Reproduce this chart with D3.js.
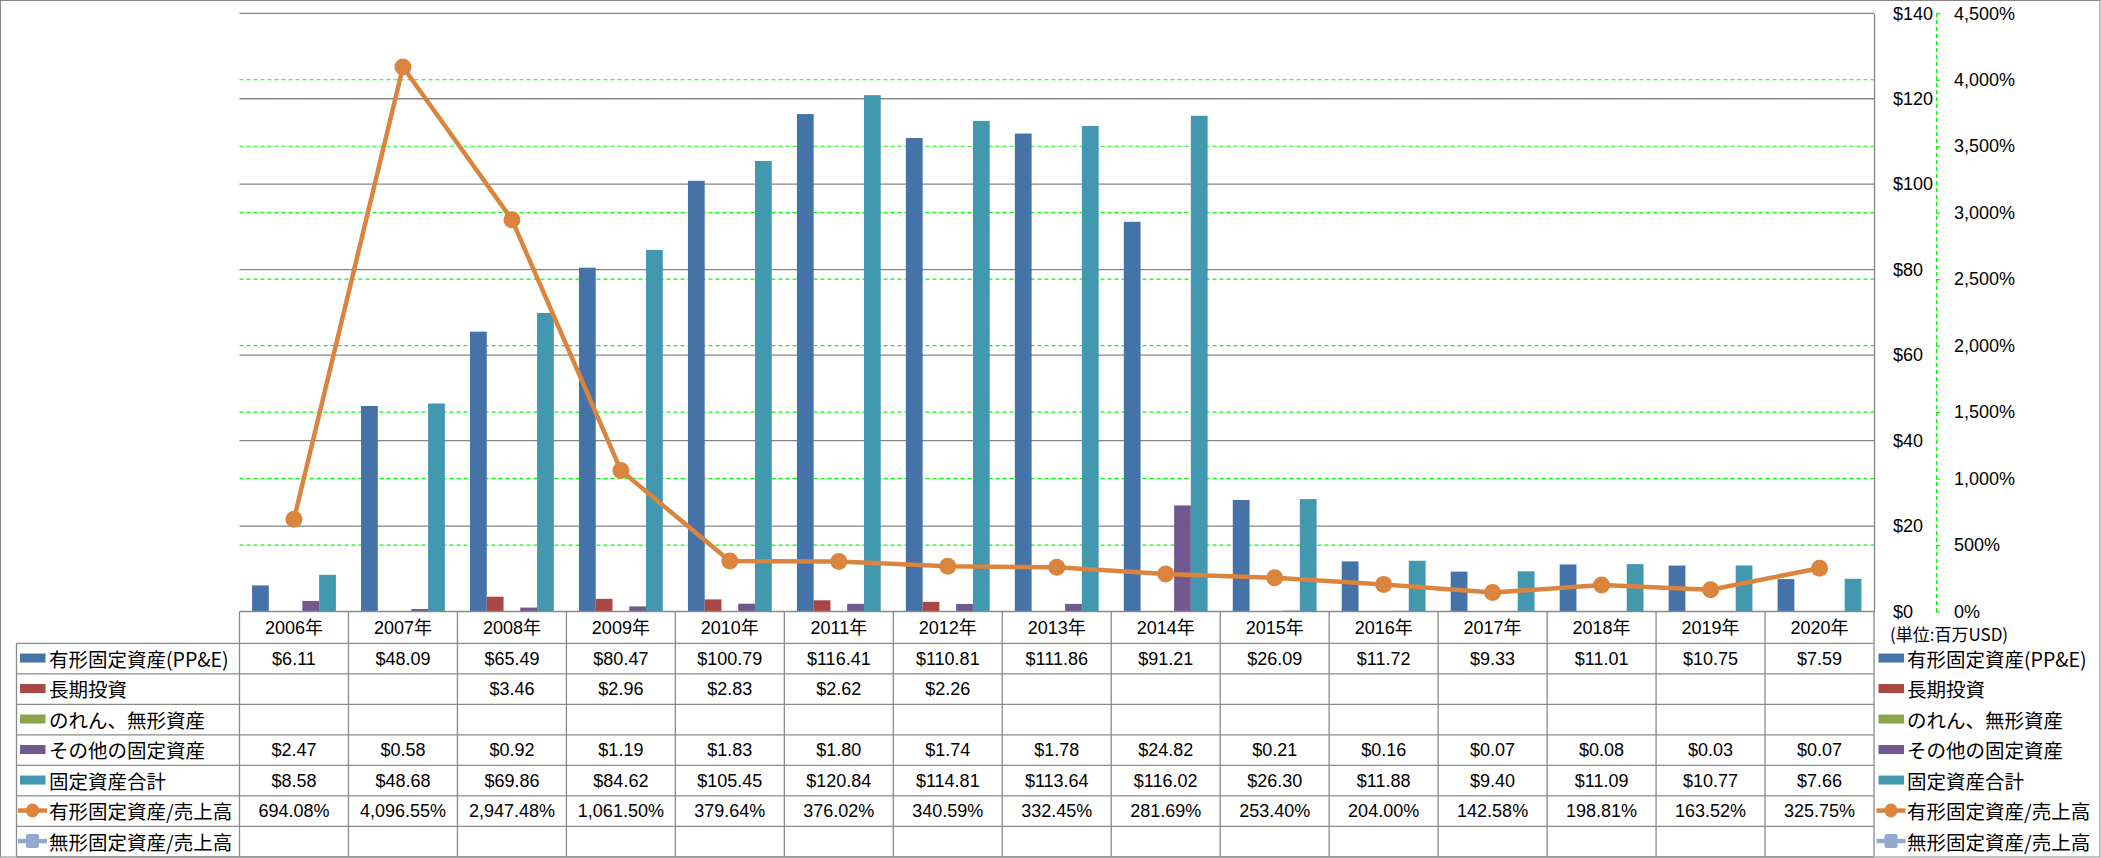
<!DOCTYPE html>
<html><head><meta charset="utf-8">
<script src="https://cdn.jsdelivr.net/npm/d3@7"></script>
<style>body{margin:0;background:#fff} svg{display:block}</style>
</head><body><svg id="c" width="2101" height="858"></svg>
<script>
const years = ['2006年','2007年','2008年','2009年','2010年','2011年','2012年','2013年','2014年','2015年','2016年','2017年','2018年','2019年','2020年'];
const ppe = [6.11,48.09,65.49,80.47,100.79,116.41,110.81,111.86,91.21,26.09,11.72,9.33,11.01,10.75,7.59];
const longInv = [null,null,3.46,2.96,2.83,2.62,2.26,null,null,null,null,null,null,null,null];
const goodwill = [null,null,null,null,null,null,null,null,null,null,null,null,null,null,null];
const otherFixed = [2.47,0.58,0.92,1.19,1.83,1.80,1.74,1.78,24.82,0.21,0.16,0.07,0.08,0.03,0.07];
const totalFixed = [8.58,48.68,69.86,84.62,105.45,120.84,114.81,113.64,116.02,26.30,11.88,9.40,11.09,10.77,7.66];
const ppeRatio = [694.08,4096.55,2947.48,1061.50,379.64,376.02,340.59,332.45,281.69,253.40,204.00,142.58,198.81,163.52,325.75];
const intangibleRatio = [null,null,null,null,null,null,null,null,null,null,null,null,null,null,null];
const seriesNames = ['有形固定資産(PP&E)','長期投資','のれん、無形資産','その他の固定資産','固定資産合計','有形固定資産/売上高','無形固定資産/売上高'];
const colors = ['#4572A7','#AA4643','#89A54E','#71588F','#4198AF','#DB843D','#93A9CF'];
const dollarTicks = [0,20,40,60,80,100,120,140];
const pctTicks = [0,500,1000,1500,2000,2500,3000,3500,4000,4500];
const unitLabel = '(単位:百万USD)';

const barSeries = [ppe, longInv, goodwill, otherFixed, totalFixed];
const allSeries = [ppe, longInv, goodwill, otherFixed, totalFixed, ppeRatio, intangibleRatio];

const L = 239.5, R = 1874, T = 13.3, B = 611.5;
const headerBottom = 643.3, rowH = 30.5, tableLeft = 16.5;
const gray = '#868686', numFont = '"Liberation Sans","Noto Sans CJK JP",sans-serif', cjkFont = '"Noto Sans CJK JP",sans-serif';
const numSize = 18;

const svg = d3.select('#c');
svg.append('rect').attr('x',0.5).attr('y',0.5).attr('width',2099.5).attr('height',856.5)
  .attr('fill','#fff').attr('stroke',gray).attr('stroke-width',1);

const x = d3.scaleBand().domain(years).range([L, R]).paddingInner(0).paddingOuter(0);
const xs = d3.scaleBand().domain(d3.range(5)).range([0, x.bandwidth()]).paddingInner(0).paddingOuter(0.75);
const y = d3.scaleLinear().domain([0,140]).range([B, T]);
const yp = d3.scaleLinear().domain([0,4500]).range([B, T]);

// gridlines
const g = svg.append('g');
g.selectAll('.gg').data(pctTicks.filter(d=>d>0 && d<4500)).join('line')
  .attr('x1',L).attr('x2',R).attr('y1',d=>yp(d)).attr('y2',d=>yp(d))
  .attr('stroke','#00ff00').attr('stroke-width',1.2).attr('stroke-dasharray','4,3');
g.selectAll('.dg').data(dollarTicks.filter(d=>d>0)).join('line')
  .attr('x1',L).attr('x2',R).attr('y1',d=>y(d)).attr('y2',d=>y(d))
  .attr('stroke',gray).attr('stroke-width',1.3);

// bars
barSeries.forEach((arr, si) => {
  svg.append('g').selectAll('rect').data(years.map((yr,i)=>({yr, v:arr[i]})).filter(d=>d.v!=null))
    .join('rect')
    .attr('x', d => x(d.yr) + xs(si))
    .attr('width', xs.bandwidth())
    .attr('y', d => y(d.v))
    .attr('height', d => y(0) - y(d.v))
    .attr('fill', colors[si]);
});

// line
const line = d3.line().defined(d=>d.v!=null).x(d=>x(d.yr)+x.bandwidth()/2).y(d=>yp(d.v));
const ptsData = years.map((yr,i)=>({yr, v:ppeRatio[i]}));
svg.append('path').datum(ptsData).attr('d', line).attr('fill','none')
  .attr('stroke', colors[5]).attr('stroke-width',4.5).attr('stroke-linejoin','round');
svg.append('g').selectAll('circle').data(ptsData.filter(d=>d.v!=null)).join('circle')
  .attr('cx', d=>x(d.yr)+x.bandwidth()/2).attr('cy', d=>yp(d.v)).attr('r',8.5).attr('fill',colors[5]);

// axes
const ax1 = svg.append('g').attr('transform',`translate(${R},0)`)
  .call(d3.axisRight(y).tickValues(dollarTicks).tickFormat(d=>'$'+d).tickSize(0).tickPadding(19));
ax1.select('.domain').attr('stroke',gray).attr('stroke-width',1.3);
ax1.selectAll('text').attr('font-family',numFont).attr('font-size',numSize).attr('fill','#000');

const ax2 = svg.append('g').attr('transform','translate(1936,0)')
  .call(d3.axisRight(yp).tickValues(pctTicks).tickFormat(d=>d3.format(',')(d)+'%').tickSizeInner(4).tickSizeOuter(0).tickPadding(14));
ax2.select('.domain').attr('stroke','#00ee00').attr('stroke-width',1.2).attr('stroke-dasharray','4,3');
ax2.selectAll('.tick line').attr('stroke','#00ee00').attr('stroke-width',1.2);
ax2.selectAll('text').attr('font-family',numFont).attr('font-size',numSize).attr('fill','#000');

// unit label
svg.append('text').attr('x',1890).attr('y',633).attr('dominant-baseline','central')
  .attr('font-family',cjkFont).attr('font-size',17).attr('fill','#000').text(unitLabel);

// data table
const tg = svg.append('g').attr('stroke','#8a8a8a').attr('stroke-width',1.3);
const bottom = headerBottom + rowH*7;
tg.append('line').attr('x1',L).attr('x2',R).attr('y1',B).attr('y2',B);
d3.range(8).forEach(i=>{
  const yy = headerBottom + rowH*i;
  tg.append('line').attr('x1',tableLeft).attr('x2',R).attr('y1',yy).attr('y2',yy);
});
tg.append('line').attr('x1',tableLeft).attr('x2',tableLeft).attr('y1',headerBottom).attr('y2',bottom);
years.forEach(yr=>{
  tg.append('line').attr('x1',x(yr)).attr('x2',x(yr)).attr('y1',B).attr('y2',bottom);
});
tg.append('line').attr('x1',R).attr('x2',R).attr('y1',B).attr('y2',bottom);

// header
svg.append('g').selectAll('text').data(years).join('text')
  .attr('x', d=>x(d)+x.bandwidth()/2).attr('y', (B+headerBottom)/2+1)
  .attr('text-anchor','middle').attr('dominant-baseline','central')
  .attr('font-family',numFont).attr('font-size',numSize).text(d=>d);

// cells
const fmt = d3.format(',.2f');
allSeries.forEach((arr, si)=>{
  const cy = headerBottom + rowH*si + rowH/2;
  svg.append('g').selectAll('text').data(years.map((yr,i)=>({yr, v:arr[i]})).filter(d=>d.v!=null))
    .join('text')
    .attr('x', d=>x(d.yr)+x.bandwidth()/2).attr('y', cy)
    .attr('text-anchor','middle').attr('dominant-baseline','central')
    .attr('font-family',numFont).attr('font-size',numSize)
    .text(d => si>=5 ? fmt(d.v)+'%' : '$'+fmt(d.v));
});

// legend keys (left column & right legend)
function legendKey(gx, cy, si){
  const kg = svg.append('g');
  if (si < 5) {
    kg.append('rect').attr('x',gx).attr('y',cy-4.5).attr('width',25.5).attr('height',9).attr('fill',colors[si]);
  } else {
    kg.append('line').attr('x1',gx-2).attr('x2',gx+27).attr('y1',cy).attr('y2',cy)
      .attr('stroke',colors[si]).attr('stroke-width',4.5);
    if (si===5) kg.append('ellipse').attr('cx',gx+12.5).attr('cy',cy).attr('rx',6.5).attr('ry',7).attr('fill',colors[si]);
    else kg.append('rect').attr('x',gx+6).attr('y',cy-7).attr('width',13).attr('height',14).attr('rx',2).attr('fill',colors[si]);
  }
}
seriesNames.forEach((name, si)=>{
  const cy = headerBottom + rowH*si + rowH/2 - 0.5;
  legendKey(20, cy, si);
  svg.append('text').attr('x',49).attr('y',cy).attr('dominant-baseline','central')
    .attr('font-family',cjkFont).attr('font-size',19.5).text(name);
  legendKey(1878.5, cy, si);
  svg.append('text').attr('x',1907).attr('y',cy).attr('dominant-baseline','central')
    .attr('font-family',cjkFont).attr('font-size',19.5).text(name);
});
</script></body></html>
